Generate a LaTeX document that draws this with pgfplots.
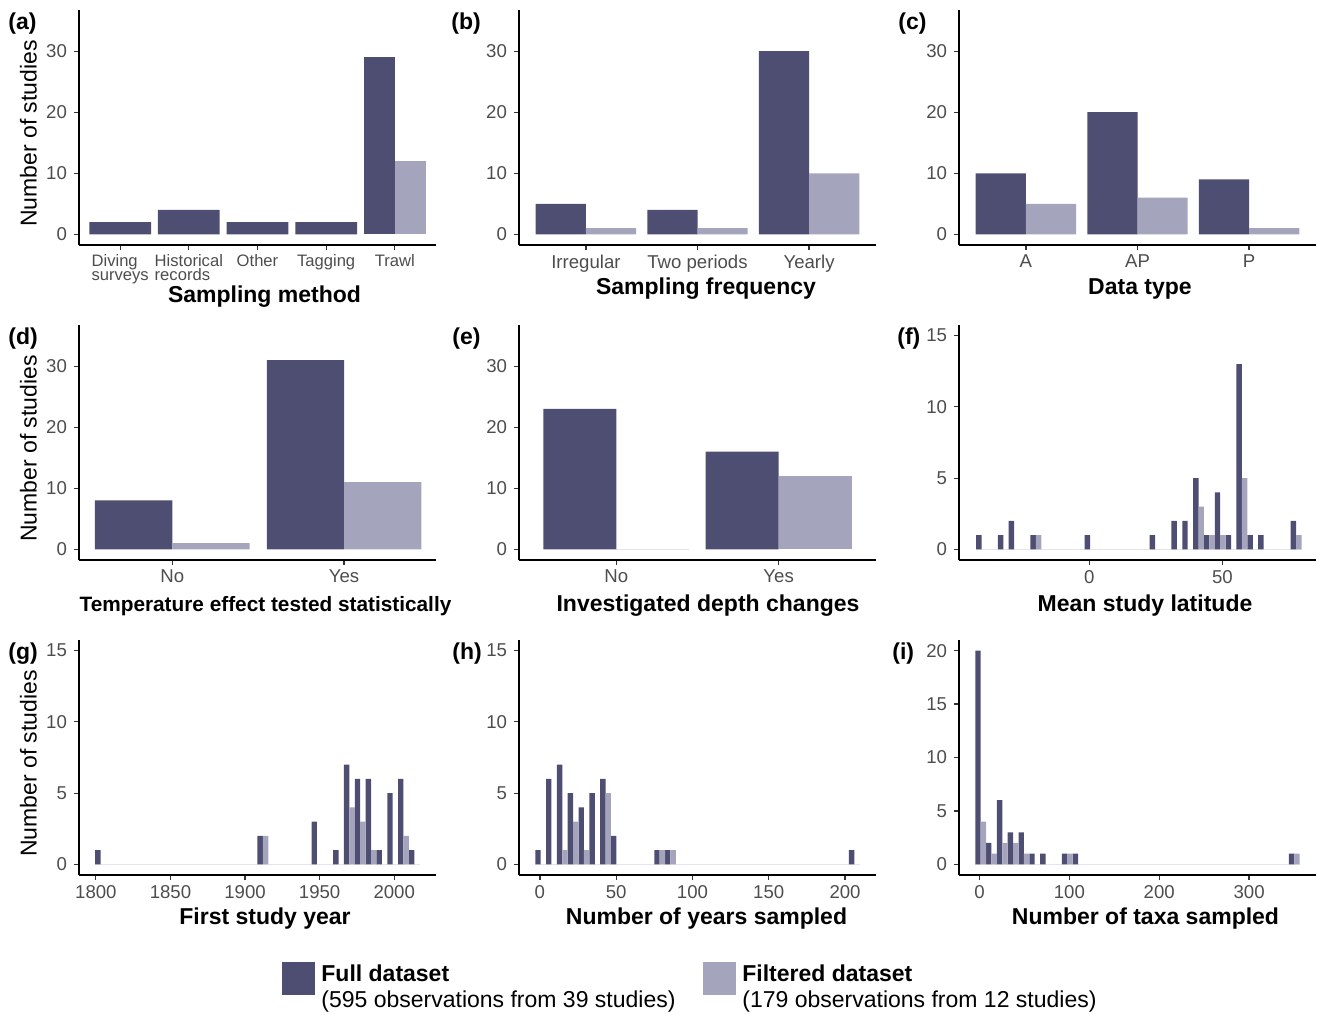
\documentclass[border=0pt]{standalone}
\usepackage{fontspec}
\setmainfont{Liberation Sans}
\usepackage{pgfplots}
\pgfplotsset{compat=1.18}
\definecolor{fullc}{RGB}{78,77,114}
\definecolor{filtc}{RGB}{165,164,189}
\definecolor{labgrey}{RGB}{77,77,77}
\definecolor{tickgrey}{RGB}{51,51,51}
\definecolor{zeroc}{RGB}{228,228,236}
\newcommand\bigfont{\fontsize{11.5}{13.8}\selectfont}
\pgfplotsset{
  panel/.style={
    scale only axis, width=178.5pt, height=117.5pt, anchor=south west,
    axis x line*=bottom, axis y line*=left,
    axis line style={-, line width=0.8pt, black},
    x axis line style={-}, y axis line style={-},
    tick align=outside, major tick length=2.5pt,
    tick style={line width=0.6pt, tickgrey},
    ticklabel style={font=\fontsize{9.3}{11}\selectfont, text=labgrey},
    xticklabel style={yshift=1pt},
    /pgf/number format/assume math mode=true,
    /pgf/number format/1000 sep={},
    scaled ticks=false,
    enlargelimits=false,
    minor tick num=0,
  },
  catpanel/.style={panel, ymin=-1.75, ymax=36.75, ytick={0,10,20,30}},
  full/.style={ybar, bar shift=0pt, fill=fullc, draw=none},
  filt/.style={ybar, bar shift=0pt, fill=filtc, draw=none},
  zero/.style={draw=zeroc, line width=0.5pt},
}
\begin{document}
\begin{tikzpicture}
\useasboundingbox (0,0) rectangle (659pt,507pt);
% ---------------- (a)
\begin{axis}[catpanel, at={(39.5pt,384.5pt)}, xmin=0.4, xmax=5.6, xtick={1,2,3,4,5},
  xticklabels={Diving\\surveys, Historical\\records, Other, Tagging, Trawl},
  xticklabel style={align=left, font=\fontsize{8.3}{7.2}\selectfont, yshift=0.5pt}]
\addplot[full, bar width=0.9] coordinates {(1,2) (2,4) (3,2) (4,2)};
\addplot[full, bar width=0.45] coordinates {(4.775,29)};
\addplot[filt, bar width=0.45] coordinates {(5.225,12)};
\end{axis}
% ---------------- (b)
\begin{axis}[catpanel, at={(259.5pt,384.5pt)}, xmin=0.4, xmax=3.6, xtick={1,2,3},
  xticklabels={Irregular, Two periods, Yearly}]
\addplot[full, bar width=0.45] coordinates {(0.775,5) (1.775,4) (2.775,30)};
\addplot[filt, bar width=0.45] coordinates {(1.225,1) (2.225,1) (3.225,10)};
\end{axis}
% ---------------- (c)
\begin{axis}[catpanel, at={(479.5pt,384.5pt)}, xmin=0.4, xmax=3.6, xtick={1,2,3},
  xticklabels={A, AP, P}]
\addplot[full, bar width=0.45] coordinates {(0.775,10) (1.775,20) (2.775,9)};
\addplot[filt, bar width=0.45] coordinates {(1.225,5) (2.225,6) (3.225,1)};
\end{axis}
% ---------------- (d)
\begin{axis}[catpanel, at={(39.5pt,227pt)}, xmin=0.457, xmax=2.535, xtick={1,2},
  xticklabels={No, Yes}]
\addplot[full, bar width=0.45] coordinates {(0.775,8) (1.775,31)};
\addplot[filt, bar width=0.45] coordinates {(1.225,1) (2.225,11)};
\end{axis}
% ---------------- (e)
\begin{axis}[catpanel, at={(259.5pt,227pt)}, xmin=0.4, xmax=2.6, xtick={1,2},
  xticklabels={No, Yes}]
\addplot[zero] coordinates {(1.0,0) (1.45,0)};
\addplot[full, bar width=0.45] coordinates {(0.775,23) (1.775,16)};
\addplot[filt, bar width=0.45] coordinates {(2.225,12)};
\end{axis}
% ---------------- (f) Mean study latitude
\begin{axis}[panel, at={(479.5pt,227pt)}, xmin=-49, xmax=85.2, ymin=-0.75, ymax=15.75,
  xtick={0,50}, ytick={0,5,10,15}]
\addplot[zero] coordinates {(-42.54,0) (79.77,0)};
\addplot[full, bar width=2.04] coordinates {
 (-41.52,1) (-33.37,1) (-29.29,2) (-21.14,1) (-0.75,1) (23.71,1) (31.87,2) (35.94,2)
 (40.02,5) (44.10,1) (48.17,4) (52.25,1) (56.33,13) (60.41,1) (64.48,1) (76.71,2)};
\addplot[filt, bar width=2.04] coordinates {
 (-19.10,1) (42.06,3) (46.14,1) (50.21,1) (58.37,5) (78.75,1)};
\end{axis}
% ---------------- (g) First study year
\begin{axis}[panel, at={(39.5pt,69.5pt)}, xmin=1788.7, xmax=2028, ymin=-0.75, ymax=15.75,
  xtick={1800,1850,...,2000}, ytick={0,5,10,15}]
\addplot[zero] coordinates {(1799.6,0) (2017.1,0)};
\addplot[full, bar width=3.625] coordinates {
 (1801.39,1) (1910.14,2) (1946.39,3) (1960.89,1) (1968.14,7) (1975.39,6)
 (1982.64,6) (1989.89,1) (1997.14,5) (2004.39,6) (2011.64,1)};
\addplot[filt, bar width=3.625] coordinates {
 (1913.76,2) (1971.76,4) (1979.01,3) (1986.26,1) (2008.01,2)};
\end{axis}
% ---------------- (h) Number of years sampled
\begin{axis}[panel, at={(259.5pt,69.5pt)}, xmin=-13.7, xmax=220.3, ymin=-0.75, ymax=15.75,
  xtick={0,50,...,200}, ytick={0,5,10,15}]
\addplot[zero] coordinates {(-3.05,0) (209.65,0)};
\addplot[full, bar width=3.545] coordinates {
 (-1.27,1) (5.82,6) (12.91,7) (20.00,5) (27.09,4) (34.18,5) (41.27,6) (48.36,2)
 (76.72,1) (83.81,1) (204.34,1)};
\addplot[filt, bar width=3.545] coordinates {
 (16.45,1) (23.54,3) (30.63,1) (44.81,5) (80.26,1) (87.35,1)};
\end{axis}
% ---------------- (i) Number of taxa sampled
\begin{axis}[panel, at={(479.5pt,69.5pt)}, xmin=-22.9, xmax=374.5, ymin=-1, ymax=21,
  xtick={0,100,200,300}, ytick={0,5,...,20}]
\addplot[zero] coordinates {(-4.81,0) (356.4,0)};
\addplot[full, bar width=6.02] coordinates {
 (-1.81,20) (10.23,2) (22.27,6) (34.31,3) (46.35,3) (58.39,1) (70.43,1)
 (94.51,1) (106.55,1) (347.35,1)};
\addplot[filt, bar width=6.02] coordinates {
 (4.21,4) (16.25,1) (28.29,2) (40.33,2) (52.37,1) (100.53,1) (353.37,1)};
\end{axis}
% ---------------- panel letters
\begin{scope}[every node/.style={inner sep=0pt, font=\bigfont\bfseries}]
\node[anchor=west] at (4pt,495pt) {(a)};
\node[anchor=west] at (225.5pt,495pt) {(b)};
\node[anchor=west] at (449pt,495pt) {(c)};
\node[anchor=west] at (4pt,337.5pt) {(d)};
\node[anchor=west] at (226pt,337.5pt) {(e)};
\node[anchor=west] at (448.5pt,337.5pt) {(f)};
\node[anchor=west] at (4pt,180pt) {(g)};
\node[anchor=west] at (226pt,180pt) {(h)};
\node[anchor=west] at (446pt,180pt) {(i)};
% x titles
\node[anchor=base] at (132.25pt,355.5pt) {Sampling method};
\node[anchor=base] at (353pt,359.5pt) {Sampling frequency};
\node[anchor=base] at (570pt,359.5pt) {Data type};
\node[anchor=base, font=\fontsize{10.4}{12}\selectfont\bfseries] at (132.75pt,201.5pt) {Temperature effect tested statistically};
\node[anchor=base] at (354pt,201.5pt) {Investigated depth changes};
\node[anchor=base] at (572.5pt,201.5pt) {Mean study latitude};
\node[anchor=base] at (132.5pt,45pt) {First study year};
\node[anchor=base] at (353.25pt,45pt) {Number of years sampled};
\node[anchor=base] at (572.75pt,45pt) {Number of taxa sampled};
\end{scope}
% y titles
\begin{scope}[every node/.style={inner sep=0pt, font=\bigfont, rotate=90}]
\node at (14.25pt,440.25pt) {Number of studies};
\node at (14.25pt,282.75pt) {Number of studies};
\node at (14.25pt,125.25pt) {Number of studies};
\end{scope}
% legend
\fill[fullc] (141pt,9.5pt) rectangle (157.5pt,26pt);
\fill[filtc] (351.5pt,9.5pt) rectangle (368pt,26pt);
\begin{scope}[every node/.style={inner sep=0pt, anchor=base west, font=\bigfont}]
\node at (160.5pt,16.5pt) {\bfseries Full dataset};
\node at (160.5pt,3.5pt) {(595 observations from 39 studies)};
\node at (371pt,16.5pt) {\bfseries Filtered dataset};
\node at (371pt,3.5pt) {(179 observations from 12 studies)};
\end{scope}
\end{tikzpicture}
\end{document}
